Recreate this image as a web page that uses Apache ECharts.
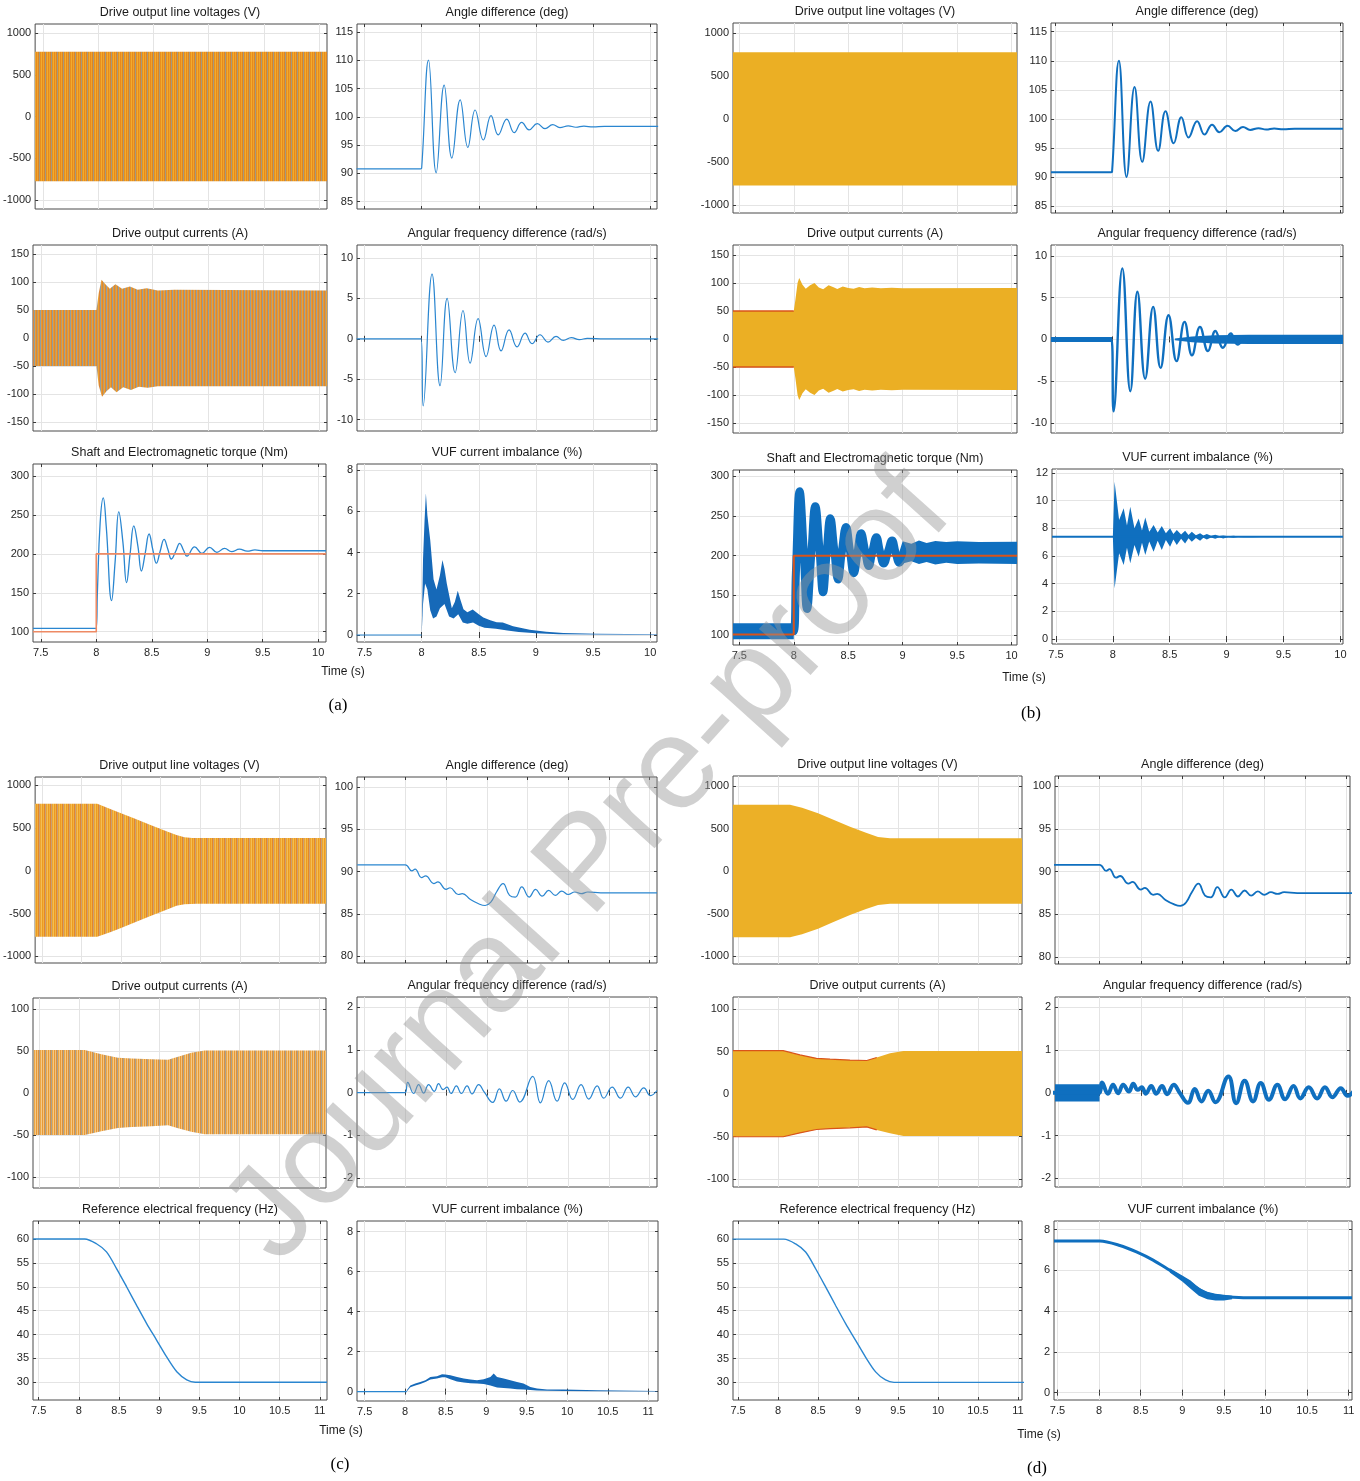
<!DOCTYPE html>
<html><head><meta charset="utf-8">
<script src="https://cdn.jsdelivr.net/npm/echarts@6/dist/echarts.min.js"></script>
<style>html,body{margin:0;padding:0;background:#fff}#c{width:1360px;height:1481px}</style>
</head><body><div id="c"></div>
<script>
// ---------------- tick labels ----------------
const xTicksAB = [7.5, 8, 8.5, 9, 9.5, 10];
const xTicksCD = [7.5, 8, 8.5, 9, 9.5, 10, 10.5, 11];
const yTicksVolt = [-1000, -500, 0, 500, 1000];
const yTicksAngleAB = [85, 90, 95, 100, 105, 110, 115];
const yTicksCurAB = [-150, -100, -50, 0, 50, 100, 150];
const yTicksFreqAB = [-10, -5, 0, 5, 10];
const yTicksTorque = [100, 150, 200, 250, 300];
const yTicksVufA = [0, 2, 4, 6, 8];
const yTicksVufB = [0, 2, 4, 6, 8, 10, 12];
const yTicksAngleCD = [80, 85, 90, 95, 100];
const yTicksCurCD = [-100, -50, 0, 50, 100];
const yTicksFreqCD = [-2, -1, 0, 1, 2];
const yTicksRef = [30, 35, 40, 45, 50, 55, 60];
const yTicksVufCD = [0, 2, 4, 6, 8];

// ---------------- (a) ----------------
const aVoltUp = [[7.43, 775], [10.07, 775]];
const aVoltLo = [[7.43, -775], [10.07, -775]];
const aAngle = [[7.43,90.8],[7.99,90.8],[8.0,90.9],[8.06,110.0],[8.127,90.1],[8.197,105.6],[8.264,92.7],[8.337,103.0],[8.404,94.6],[8.468,101.2],[8.54,95.9],[8.607,100.2],[8.67,96.8],[8.745,99.6],[8.81,97.2],[8.876,99.0],[8.94,97.7],[9.012,98.8],[9.08,97.9],[9.147,98.6],[9.21,98.1],[9.283,98.4],[9.35,98.15],[9.42,98.35],[9.5,98.2],[9.6,98.3],[10.07,98.3]];
const aCurUp = [[7.43,50],[8.0,50],[8.02,80],[8.045,104],[8.08,96],[8.12,88],[8.17,96],[8.23,88],[8.3,92],[8.37,86],[8.45,89],[8.55,85],[8.7,86],[10.07,85]];
const aCurLo = [[7.43,-50],[8.0,-50],[8.02,-85],[8.05,-105],[8.09,-95],[8.13,-88],[8.18,-97],[8.24,-88],[8.31,-93],[8.38,-87],[8.46,-89],[8.55,-86],[8.7,-86],[10.07,-86]];
const aFreq = [[7.43,0],[7.995,0],[8.013,-8.3],[8.091,8.0],[8.161,-5.8],[8.223,5.0],[8.293,-4.2],[8.362,3.5],[8.424,-3.0],[8.494,2.5],[8.564,-2.2],[8.634,1.7],[8.695,-1.5],[8.765,1.1],[8.835,-1.0],[8.905,0.7],[8.966,-0.6],[9.036,0.5],[9.106,-0.4],[9.176,0.3],[9.24,-0.2],[9.31,0.15],[9.38,-0.1],[9.45,0.05],[9.6,0],[10.07,0]];
const aTorque = [[7.43,104.3],[7.998,104.3],[8.01,150],[8.035,240],[8.063,272],[8.09,235],[8.138,140],[8.17,190],[8.203,254],[8.24,215],[8.273,163],[8.305,200],[8.338,236],[8.375,210],[8.407,178],[8.44,200],[8.476,225.5],[8.51,205],[8.542,188],[8.575,203],[8.611,218.6],[8.645,206],[8.677,193.4],[8.715,203],[8.752,213.5],[8.785,205],[8.817,197],[8.886,209],[8.952,200.7],[9.021,208.4],[9.087,202],[9.156,207],[9.22,202.8],[9.29,206],[9.36,203.5],[9.43,205],[9.5,204],[10.07,204]];
const aTorqueRef = [[7.43,100],[8.0,100],[8.0,200],[10.07,200]];
const aVufUp = [[8.0,0],[8.012,3.7],[8.025,5.5],[8.037,6.87],[8.05,5.8],[8.075,4.6],[8.104,2.7],[8.13,2.2],[8.16,2.9],[8.182,3.63],[8.2,3.2],[8.22,2.5],[8.264,1.3],[8.29,1.6],[8.316,2.14],[8.34,1.7],[8.366,1.25],[8.4,1.1],[8.447,1.24],[8.5,1.0],[8.54,0.85],[8.6,0.72],[8.657,0.62],[8.71,0.6],[8.8,0.42],[8.946,0.25],[9.09,0.16],[9.24,0.1],[9.53,0.06],[10.07,0.03]];
const aVufLo = [[8.0,0],[8.012,1.5],[8.03,2.5],[8.05,2.2],[8.075,1.2],[8.1,0.8],[8.13,0.9],[8.16,1.3],[8.2,1.5],[8.24,0.9],[8.28,0.8],[8.32,1.0],[8.36,0.6],[8.4,0.55],[8.45,0.6],[8.5,0.45],[8.55,0.35],[8.65,0.3],[8.75,0.22],[8.85,0.15],[9.0,0.08],[9.2,0.04],[9.5,0.02],[10.07,0.01]];
const aVufBase = [[7.43,0],[8.0,0]];

// ---------------- (b) ----------------
const bVoltUp = [[7.442, 775], [10.05, 775]];
const bVoltLo = [[7.442, -775], [10.05, -775]];
const bAngle = [[7.465,90.8],[7.99,90.8],[8.0,90.9],[8.06,110.0],[8.127,90.0],[8.197,105.5],[8.264,92.6],[8.337,103.0],[8.404,94.5],[8.468,101.3],[8.54,95.8],[8.607,100.3],[8.67,96.8],[8.745,99.6],[8.81,97.3],[8.876,99.0],[8.94,97.7],[9.012,98.8],[9.08,97.9],[9.147,98.6],[9.21,98.1],[9.283,98.4],[9.35,98.15],[9.42,98.35],[9.5,98.2],[9.6,98.3],[10.023,98.3]];
const bCurUp = [[7.442,50],[8.0,50],[8.015,70],[8.035,100],[8.05,109],[8.08,97],[8.11,90],[8.15,96],[8.19,100],[8.23,92],[8.27,89],[8.32,96],[8.36,93],[8.4,89.5],[8.45,94],[8.5,91],[8.55,90],[8.6,93],[8.65,90.5],[8.72,92],[8.8,90.5],[8.9,91.5],[9.0,90.8],[10.05,91]];
const bCurLo = [[7.442,-50],[8.0,-50],[8.015,-70],[8.035,-100],[8.05,-109],[8.08,-97],[8.11,-90],[8.15,-96],[8.19,-100],[8.23,-92],[8.27,-89],[8.32,-96],[8.36,-93],[8.4,-89.5],[8.45,-94],[8.5,-91],[8.55,-90],[8.6,-93],[8.65,-90.5],[8.72,-92],[8.8,-90.5],[8.9,-91.5],[9.0,-90.8],[10.05,-91]];
const bCurEdgeUp = [[7.442,50],[8.0,50]];
const bCurEdgeLo = [[7.442,-50],[8.0,-50]];
const bFreq = [[7.465,0],[7.995,0],[8.013,-8.6],[8.09,8.5],[8.16,-6.2],[8.222,5.7],[8.29,-4.7],[8.36,3.9],[8.425,-3.4],[8.495,2.9],[8.565,-2.6],[8.635,2.1],[8.7,-1.9],[8.77,1.5],[8.84,-1.4],[8.905,1.0],[8.97,-1.0],[9.04,0.7],[9.1,-0.6],[9.18,0.4],[9.25,-0.4],[9.35,0.2],[9.5,0],[10.023,0]];
const bFreqPreUp = [[7.465,0.3],[8.0,0.3]];
const bFreqPreLo = [[7.465,-0.3],[8.0,-0.3]];
const bFreqPostUp = [[8.55,0.1],[8.7,0.35],[8.9,0.5],[9.2,0.55],[10.023,0.55]];
const bFreqPostLo = [[8.55,-0.1],[8.7,-0.35],[8.9,-0.5],[9.2,-0.55],[10.023,-0.55]];
const bTorque = [[7.442,105],[7.998,105],[8.02,180],[8.054,281],[8.09,210],[8.122,133],[8.16,200],[8.198,262],[8.235,210],[8.269,154],[8.3,200],[8.336,247],[8.37,210],[8.407,170],[8.44,203],[8.48,236],[8.515,207],[8.551,178],[8.585,203],[8.618,228],[8.655,206],[8.689,187],[8.72,204],[8.759,223],[8.79,206],[8.826,190],[8.865,205],[8.903,219],[8.935,204],[8.97,191],[9.01,204]];
const bTorquePreUp = [[7.442,115],[8.0,115]];
const bTorquePreLo = [[7.442,95],[8.0,95]];
const bTorqueSteadyUp = [[8.97,205],[9.0,218],[9.08,215],[9.15,219],[9.22,216],[9.3,218.5],[9.4,217],[9.5,218],[9.7,217],[10.05,217.5]];
const bTorqueSteadyLo = [[8.97,191],[9.0,190],[9.08,193],[9.15,189.5],[9.22,192],[9.3,189],[9.4,191],[9.5,189.5],[9.7,190],[10.05,189.5]];
const bTorqueRef = [[7.442,101],[8.0,101],[8.0,200],[10.05,200]];
const bVufUp = [[8.0,7.4],[8.015,11.37],[8.055,8.6],[8.095,9.45],[8.124,8.2],[8.153,9.57],[8.19,8.0],[8.227,8.72],[8.256,7.85],[8.285,8.79],[8.32,7.75],[8.358,8.24],[8.394,7.7],[8.43,8.17],[8.466,7.65],[8.503,8.0],[8.532,7.6],[8.562,7.88],[8.6,7.55],[8.635,7.83],[8.665,7.52],[8.694,7.76],[8.73,7.5],[8.767,7.64],[8.796,7.48],[8.826,7.59],[8.863,7.46],[8.9,7.54],[8.935,7.44],[8.97,7.49],[9.015,7.43],[9.06,7.47],[9.1,7.42],[9.15,7.45],[9.23,7.43],[9.3,7.41]];
const bVufLo = [[8.0,7.4],[8.015,3.66],[8.055,6.2],[8.095,5.35],[8.124,6.6],[8.153,5.47],[8.19,6.8],[8.227,5.95],[8.256,6.95],[8.285,6.07],[8.32,7.05],[8.358,6.31],[8.394,7.1],[8.43,6.43],[8.466,7.15],[8.503,6.67],[8.532,7.2],[8.562,6.79],[8.6,7.25],[8.635,6.91],[8.665,7.28],[8.694,7.03],[8.73,7.3],[8.767,7.1],[8.796,7.32],[8.826,7.2],[8.863,7.34],[8.9,7.25],[8.935,7.36],[8.97,7.27],[9.015,7.37],[9.06,7.32],[9.1,7.38],[9.15,7.35],[9.23,7.36],[9.3,7.38]];
const bVufLine = [[7.465,7.39],[10.023,7.39]];

// ---------------- (c) ----------------
const cVoltUp = [[7.416,780],[8.2,780],[8.38,714],[8.5,670],[8.67,609],[8.88,531],[9.09,454],[9.2,415],[9.3,390],[9.4,382],[9.5,380],[11.088,380]];
const cVoltLo = [[7.416,-772],[8.2,-772],[8.38,-712],[8.5,-668],[8.67,-605],[8.88,-525],[9.09,-450],[9.2,-410],[9.3,-392],[9.45,-385],[11.088,-385]];
const cAngle = [[7.41,90.8],[8.0,90.8],[8.08,90.1],[8.12,90.3],[8.2,89.3],[8.25,89.5],[8.35,88.6],[8.4,88.8],[8.5,87.9],[8.55,88.1],[8.65,87.3],[8.7,87.4],[8.8,86.7],[8.9,86.2],[8.98,86.0],[9.05,86.4],[9.12,87.6],[9.2,88.6],[9.28,87.2],[9.35,87.0],[9.43,88.2],[9.52,87.0],[9.6,87.9],[9.68,87.1],[9.76,87.8],[9.84,87.2],[9.92,87.7],[10.0,87.3],[10.08,87.6],[10.16,87.4],[10.24,87.6],[10.4,87.5],[11.09,87.5]];
const cCurUp = [[7.416,51],[8.064,51],[8.273,46],[8.48,42],[8.65,41],[8.9,40],[9.109,39.5],[9.234,43],[9.4,48],[9.568,50.5],[11.088,50.5]];
const cCurLo = [[7.416,-50],[8.064,-50],[8.273,-45.5],[8.48,-41.5],[8.65,-40.5],[8.9,-39.5],[9.109,-38.5],[9.234,-42],[9.4,-46],[9.568,-49],[11.088,-49]];
const cFreq = [[7.407,0],[7.995,0],[8.029,0.24],[8.102,-0.02],[8.164,0.19],[8.225,-0.01],[8.287,0.19],[8.356,0.03],[8.409,0.21],[8.463,0.07],[8.512,0.13],[8.561,-0.02],[8.627,0.16],[8.688,-0.02],[8.758,0.16],[8.819,-0.03],[8.901,0.19],[8.97,0.01],[9.073,-0.23],[9.155,0.09],[9.237,-0.2],[9.319,0.05],[9.405,-0.22],[9.564,0.38],[9.658,-0.24],[9.761,0.28],[9.863,-0.2],[9.957,0.23],[10.056,-0.16],[10.158,0.19],[10.252,-0.15],[10.355,0.16],[10.436,-0.13],[10.539,0.13],[10.641,-0.13],[10.736,0.13],[10.826,-0.1],[10.928,0.11],[11.01,-0.07],[11.09,0.05]];
const cRef = [[7.43,60],[8.074,60],[8.22,59.0],[8.345,57.3],[8.47,53.8],[8.595,50],[8.72,46.1],[8.845,42.3],[8.97,38.8],[9.094,35.3],[9.22,32.2],[9.344,30.5],[9.45,30],[11.09,30]];
const cVufUp = [[8.02,0.07],[8.064,0.31],[8.125,0.4],[8.187,0.48],[8.25,0.57],[8.311,0.73],[8.393,0.77],[8.455,0.87],[8.496,0.85],[8.558,0.82],[8.64,0.73],[8.723,0.65],[8.805,0.6],[8.887,0.57],[8.97,0.62],[9.052,0.73],[9.093,0.9],[9.134,0.73],[9.216,0.65],[9.298,0.57],[9.38,0.48],[9.46,0.4],[9.545,0.23],[9.628,0.15],[9.751,0.1],[9.957,0.1],[10.37,0.07],[11.11,0.03]];
const cVufLo = [[8.02,0.0],[8.064,0.22],[8.125,0.3],[8.187,0.38],[8.25,0.48],[8.311,0.6],[8.393,0.65],[8.455,0.72],[8.496,0.72],[8.558,0.62],[8.64,0.5],[8.723,0.45],[8.805,0.42],[8.887,0.4],[8.97,0.38],[9.052,0.3],[9.134,0.2],[9.216,0.18],[9.298,0.15],[9.38,0.12],[9.46,0.1],[9.545,0.08],[9.628,0.06],[9.751,0.04],[9.957,0.03],[10.37,0.02],[11.11,0.0]];
const cVufBase = [[7.406,0],[8.02,0]];

// ---------------- (d) ----------------
const dVoltUp = [[7.437,780],[8.15,780],[8.3,745],[8.5,680],[8.7,600],[8.9,520],[9.1,450],[9.25,400],[9.4,385],[11.05,385]];
const dVoltLo = [[7.437,-775],[8.15,-775],[8.3,-740],[8.5,-675],[8.7,-595],[8.9,-515],[9.1,-445],[9.25,-398],[9.4,-383],[11.05,-383]];
const dAngle = cAngle;
const dCurUp = [[7.437,51],[8.064,51],[8.273,46],[8.48,42],[8.65,41],[8.9,40],[9.109,39.5],[9.234,43],[9.4,48],[9.568,50.5],[11.05,50.5]];
const dCurLo = [[7.437,-50],[8.064,-50],[8.273,-45.5],[8.48,-41.5],[8.65,-40.5],[8.9,-39.5],[9.109,-38.5],[9.234,-42],[9.4,-46],[9.568,-49],[11.05,-49]];
const dCurEdgeUp = [[7.437,51],[8.064,51],[8.273,46],[8.48,42],[8.65,41],[8.9,40],[9.109,39.5],[9.234,43]];
const dCurEdgeLo = [[7.437,-50],[8.064,-50],[8.273,-45.5],[8.48,-41.5],[8.65,-40.5],[8.9,-39.5],[9.109,-38.5],[9.234,-42]];
const dFreq = cFreq;
const dFreqPreUp = [[7.459,0.2],[8.0,0.2]];
const dFreqPreLo = [[7.459,-0.2],[8.0,-0.2]];
const dRef = cRef;
const dVuf = [[7.459,7.44],[8.01,7.44],[8.25,7.22],[8.45,6.9],[8.65,6.5],[8.85,6.0],[9.05,5.5],[9.13,5.27],[9.25,4.95],[9.37,4.78],[9.54,4.7],[9.78,4.65],[11.04,4.65]];
const dVufUp = [[8.85,6.1],[9.0,5.75],[9.1,5.5],[9.2,5.15],[9.3,4.95],[9.4,4.85],[9.5,4.8],[9.6,4.75]];
const dVufLo = [[8.85,5.9],[9.0,5.45],[9.1,5.1],[9.2,4.75],[9.3,4.58],[9.4,4.52],[9.5,4.52],[9.6,4.58]];

// ---------------- layout & style ----------------
const FONT = '"Liberation Sans", Arial, Helvetica, sans-serif';
const BLUE = '#0f6fbf', BLUE_T = '#2a86d0', ORANGE = '#D95319', YEL = '#EDB120';
const T_VOLT = 'Drive output line voltages (V)', T_ANG = 'Angle difference (deg)', T_CUR = 'Drive output currents (A)',
      T_FRQ = 'Angular frequency difference (rad/s)', T_TOR = 'Shaft and Electromagnetic torque (Nm)',
      T_VUF = 'VUF current imbalance (%)', T_REF = 'Reference electrical frequency (Hz)';

const P = [
 {box:[33,24,327,209],  xr:[7.43,10.07],  yr:[-1108,1108], xt:xTicksAB, yt:yTicksVolt,   title:T_VOLT, xl:false},
 {box:[357,24,657,209], xr:[7.434,10.06], yr:[83.7,116.4],  xt:xTicksAB, yt:yTicksAngleAB,title:T_ANG,  xl:false},
 {box:[33,245,327,431], xr:[7.43,10.07],  yr:[-166,166],    xt:xTicksAB, yt:yTicksCurAB,  title:T_CUR,  xl:false},
 {box:[357,245,657,431],xr:[7.434,10.06], yr:[-11.4,11.6],  xt:xTicksAB, yt:yTicksFreqAB, title:T_FRQ,  xl:false},
 {box:[33,464,326,642], xr:[7.43,10.07],  yr:[86.8,315.4],  xt:xTicksAB, yt:yTicksTorque, title:T_TOR,  xl:true},
 {box:[357,464,657,642],xr:[7.434,10.06], yr:[-0.34,8.29],  xt:xTicksAB, yt:yTicksVufA,   title:T_VUF,  xl:true},

 {box:[733,23,1017,213],  xr:[7.442,10.05], yr:[-1095,1115], xt:xTicksAB, yt:yTicksVolt,   title:T_VOLT, xl:false},
 {box:[1051,23,1343,213], xr:[7.465,10.023],yr:[83.8,116.5], xt:xTicksAB, yt:yTicksAngleAB,title:T_ANG,  xl:false},
 {box:[733,245,1017,433], xr:[7.442,10.05], yr:[-168,168],   xt:xTicksAB, yt:yTicksCurAB,  title:T_CUR,  xl:false},
 {box:[1051,245,1343,433],xr:[7.465,10.023],yr:[-11.2,11.3], xt:xTicksAB, yt:yTicksFreqAB, title:T_FRQ,  xl:false},
 {box:[733,470,1017,645], xr:[7.442,10.05], yr:[87.7,307.6], xt:xTicksAB, yt:yTicksTorque, title:T_TOR,  xl:true},
 {box:[1052,469,1343,644],xr:[7.465,10.023],yr:[-0.36,12.29],xt:xTicksAB, yt:yTicksVufB,   title:T_VUF,  xl:true},

 {box:[33,777,326,963],   xr:[7.416,11.088],yr:[-1077,1093], xt:xTicksCD, yt:yTicksVolt,   title:T_VOLT, xl:false},
 {box:[357,777,657,963],  xr:[7.407,11.09], yr:[79.2,101.2], xt:xTicksCD, yt:yTicksAngleCD,title:T_ANG,  xl:false},
 {box:[33,998,326,1188],  xr:[7.416,11.088],yr:[-113,113],   xt:xTicksCD, yt:yTicksCurCD,  title:T_CUR,  xl:false},
 {box:[357,997,657,1187], xr:[7.407,11.09], yr:[-2.21,2.24], xt:xTicksCD, yt:yTicksFreqCD, title:T_FRQ,  xl:false},
 {box:[33,1221,327,1400], xr:[7.43,11.09],  yr:[26.3,63.76], xt:xTicksCD, yt:yTicksRef,    title:T_REF,  xl:true},
 {box:[357,1221,658,1401],xr:[7.406,11.12], yr:[-0.47,8.53], xt:xTicksCD, yt:yTicksVufCD,  title:T_VUF,  xl:true},

 {box:[733,776,1022,964],  xr:[7.437,11.05],yr:[-1090,1117], xt:xTicksCD, yt:yTicksVolt,   title:T_VOLT, xl:false},
 {box:[1055,776,1350,964], xr:[7.459,11.04],yr:[79.2,101.2], xt:xTicksCD, yt:yTicksAngleCD,title:T_ANG,  xl:false},
 {box:[733,997,1022,1187], xr:[7.437,11.05],yr:[-109,114],   xt:xTicksCD, yt:yTicksCurCD,  title:T_CUR,  xl:false},
 {box:[1055,997,1350,1187],xr:[7.459,11.04],yr:[-2.2,2.24],  xt:xTicksCD, yt:yTicksFreqCD, title:T_FRQ,  xl:false},
 {box:[733,1221,1022,1400],xr:[7.437,11.05],yr:[26.3,63.8],  xt:xTicksCD, yt:yTicksRef,    title:T_REF,  xl:true},
 {box:[1054,1221,1352,1400],xr:[7.459,11.04],yr:[-0.36,8.42],xt:xTicksCD, yt:yTicksVufCD,  title:T_VUF,  xl:true}
];

// vertical-stripe fill imitating the dense switching waveforms (style only)
function stripes(cols) {
  const c = document.createElement('canvas'); c.width = cols.length; c.height = 4;
  const g = c.getContext('2d');
  cols.forEach((col, i) => { g.fillStyle = col; g.fillRect(i, 0, 1, 4); });
  return {image: c, repeat: 'repeat'};
}
const FILL_A_VOLT = stripes(['#E8891D', '#EFA428', '#DE8424', '#A39A80', '#E8901F', '#F1AC2E']);
const FILL_A_CUR  = stripes(['#E08A2A', '#B79A72', '#EDA230', '#D9863A', '#8FA0A0', '#E89A3A']);
const FILL_C_VOLT = stripes(['#EC9A22', '#F2B23A', '#E5862A', '#C9A074', '#EEA530', '#F3BE55']);
const FILL_C_CUR  = stripes(['#E89A35', '#F4C27A', '#D99040', '#A9A290', '#EEA845', '#F3C889']);

const fmt = v => String(v);
function axisX(i, p, sec) {
  return {type:'value', gridIndex:i, min:p.xr[0], max:p.xr[1], position: sec ? 'top' : 'bottom',
    axisLine:{show:false},
    axisTick:{show:true, inside:true, length:3, customValues:p.xt, lineStyle:{color:'#3a3a3a', width:1}},
    axisLabel:{show:!sec && p.xl, customValues:p.xt, margin:5, fontSize:11, color:'#262626', fontFamily:FONT, formatter:fmt},
    splitLine:{show:!sec, lineStyle:{color:'#e4e4e4', width:1}}};
}
function axisY(i, p, sec) {
  return {type:'value', gridIndex:i, min:p.yr[0], max:p.yr[1], position: sec ? 'right' : 'left',
    axisLine:{show:false},
    axisTick:{show:true, inside:true, length:3, customValues:p.yt, lineStyle:{color:'#3a3a3a', width:1}},
    axisLabel:{show:!sec, customValues:p.yt, margin:4, fontSize:11, color:'#262626', fontFamily:FONT, formatter:fmt},
    splitLine:{show:!sec, lineStyle:{color:'#e4e4e4', width:1}}};
}
function line(gi, data, color, width, smooth, z) {
  return {type:'line', xAxisIndex:gi, yAxisIndex:gi, data:data, symbol:'none', showSymbol:false,
    smooth: smooth || false, lineStyle:{color:color, width:width}, z: z || 3, silent:true, animation:false};
}
function band(gi, up, lo, color, z) {
  return {type:'custom', xAxisIndex:gi, yAxisIndex:gi, z: z || 2, silent:true, clip:true, animation:false,
    data:[[up[0][0], up[0][1]]],
    renderItem:function(params, api){
      const pts = up.map(p => api.coord(p)).concat(lo.slice().reverse().map(p => api.coord(p)));
      return {type:'polygon', shape:{points:pts}, style:{fill:color, stroke:null}};
    }};
}

const grid = [], xAxis = [], yAxis = [], graphic = [];
P.forEach((p, i) => {
  const [l, t, r, b] = p.box;
  grid.push({left:l, top:t, width:r - l, height:b - t, show:true, borderColor:'#4a4a4a', borderWidth:1, backgroundColor:'#fff'});
  xAxis.push(axisX(i, p, false)); yAxis.push(axisY(i, p, false));
  graphic.push({type:'text', x:(l + r) / 2, y:t - 11, z:50,
    style:{text:p.title, font:'12.5px ' + FONT, fill:'#1a1a1a', align:'center', verticalAlign:'middle'}});
});
P.forEach((p, i) => { xAxis.push(axisX(i, p, true)); yAxis.push(axisY(i, p, true)); });

const series = [
  // (a)
  band(0, aVoltUp, aVoltLo, FILL_A_VOLT),
  line(1, aAngle, BLUE_T, 1.2, 0.45),
  band(2, aCurUp, aCurLo, FILL_A_CUR),
  line(3, aFreq, BLUE_T, 1.2, 0.45),
  line(4, aTorque, BLUE_T, 1.3, 0.45),
  line(4, aTorqueRef, '#EE8A64', 1.6, false, 4),
  band(5, aVufUp, aVufLo, '#1669b8'),
  line(5, aVufBase, BLUE_T, 1.2),
  // (b)
  band(6, bVoltUp, bVoltLo, '#EBAF24'),
  line(7, bAngle, BLUE, 2, 0.45),
  band(8, bCurUp, bCurLo, '#EBAF24'),
  line(8, bCurEdgeUp, ORANGE, 1.3, false, 4),
  line(8, bCurEdgeLo, ORANGE, 1.3, false, 4),
  band(9, bFreqPreUp, bFreqPreLo, BLUE),
  band(9, bFreqPostUp, bFreqPostLo, BLUE),
  line(9, bFreq, BLUE, 2.4, 0.45),
  band(10, bTorquePreUp, bTorquePreLo, BLUE),
  band(10, bTorqueSteadyUp, bTorqueSteadyLo, BLUE),
  line(10, bTorque, BLUE, 8, 0.45),
  line(10, bTorqueRef, ORANGE, 2, false, 5),
  band(11, bVufUp, bVufLo, BLUE),
  line(11, bVufLine, BLUE, 2),
  // (c)
  band(12, cVoltUp, cVoltLo, FILL_C_VOLT),
  line(13, cAngle, BLUE_T, 1.2, 0.45),
  band(14, cCurUp, cCurLo, FILL_C_CUR),
  line(15, cFreq, BLUE_T, 1.2, 0.45),
  line(16, cRef, BLUE_T, 1.4, 0.3),
  band(17, cVufUp, cVufLo, '#1669b8'),
  line(17, cVufBase, BLUE_T, 1.2),
  // (d)
  band(18, dVoltUp, dVoltLo, '#ECB027'),
  line(19, dAngle, BLUE, 1.8, 0.45),
  band(20, dCurUp, dCurLo, '#ECB027'),
  line(20, dCurEdgeUp, ORANGE, 1.2, false, 4),
  line(20, dCurEdgeLo, ORANGE, 1.2, false, 4),
  band(21, dFreqPreUp, dFreqPreLo, BLUE),
  line(21, dFreq, BLUE, 4, 0.45),
  line(22, dRef, BLUE_T, 1.4, 0.3),
  band(23, dVufUp, dVufLo, BLUE),
  line(23, dVuf, BLUE, 3, 0.3)
];

// axis / panel labels
[[343,672,'Time (s)'],[1024,678,'Time (s)'],[341,1431,'Time (s)'],[1039,1435,'Time (s)']].forEach(a => {
  graphic.push({type:'text', x:a[0], y:a[1], z:50, style:{text:a[2], font:'12px ' + FONT, fill:'#1a1a1a', align:'center', verticalAlign:'middle'}});
});
[[338,706,'(a)'],[1031,714,'(b)'],[340,1465,'(c)'],[1037,1469,'(d)']].forEach(a => {
  graphic.push({type:'text', x:a[0], y:a[1], z:50, style:{text:a[2], font:'17px "Liberation Serif", "Times New Roman", serif', fill:'#000', align:'center', verticalAlign:'middle'}});
});
// watermark
graphic.push({type:'text', x:590, y:866, rotation:0.838, z:200,
  style:{text:'Journal Pre-proof', font:'131px ' + FONT, fill:'rgba(150,150,150,0.45)', align:'center', verticalAlign:'middle'}});

const chart = echarts.init(document.getElementById('c'), null, {renderer:'canvas'});
chart.setOption({animation:false, backgroundColor:'#fff', grid, xAxis, yAxis, series, graphic});
</script></body></html>
